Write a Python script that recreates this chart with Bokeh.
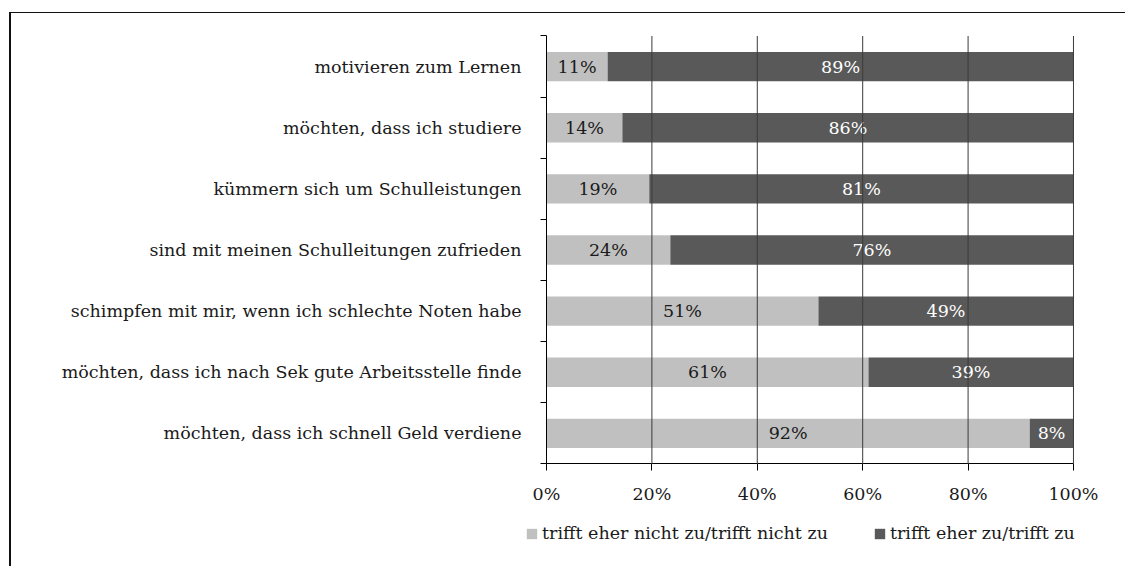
from bokeh.plotting import figure
from bokeh.layouts import column, row
from bokeh.models import (Range1d, FixedTicker, ColumnDataSource, Legend, LegendItem, Spacer)
from bokeh.core.properties import value
from bokeh.embed import file_html
from bokeh.resources import INLINE

categories = [
    "motivieren zum Lernen",
    "möchten, dass ich studiere",
    "kümmern sich um Schulleistungen",
    "sind mit meinen Schulleitungen zufrieden",
    "schimpfen mit mir, wenn ich schlechte Noten habe",
    "möchten, dass ich nach Sek gute Arbeitsstelle finde",
    "möchten, dass ich schnell Geld verdiene",
]
nicht_zu = [11.6, 14.4, 19.5, 23.5, 51.6, 61.1, 91.7]
zu = [100 - v for v in nicht_zu]
labels_nicht = ["11%", "14%", "19%", "24%", "51%", "61%", "92%"]
labels_zu = ["89%", "86%", "81%", "76%", "49%", "39%", "8%"]
x_ticks = [0, 20, 40, 60, 80, 100]
grid_ticks = [20, 40, 60, 80, 100]
series_names = ["trifft eher nicht zu/trifft nicht zu", "trifft eher zu/trifft zu"]

FONT = "DejaVu Serif"
FS = "17.5px"
LIGHT = "#c0c0c0"
DARK = "#595959"
TXT = "#1a1a1a"

n = len(categories)
ypos = [n - i - 0.5 for i in range(n)]

src = ColumnDataSource(dict(
    y=ypos,
    a0=[0] * n,
    a1=nicht_zu,
    b1=[100] * n,
    ca=[v / 2 for v in nicht_zu],
    cb=[a + b / 2 for a, b in zip(nicht_zu, zu)],
    la=labels_nicht,
    lb=labels_zu,
))

# the frame covers the whole canvas; axes are pinned at 0 with fixed_location
p = figure(width=1116, height=554, output_backend="svg", toolbar_location=None,
           x_range=Range1d(-101.52, 110.25), y_range=Range1d(-1.693, 7.368),
           min_border_left=0, min_border_right=0, min_border_top=0, min_border_bottom=0)
p.outline_line_color = None
p.styles = {"border-top": "1.5px solid #111", "border-left": "2px solid #111",
            "box-sizing": "border-box"}

r1 = p.hbar(y="y", left="a0", right="a1", height=0.48, source=src, fill_color=LIGHT, line_color=None)
r2 = p.hbar(y="y", left="a1", right="b1", height=0.48, source=src, fill_color=DARK, line_color=None)

# vertical gridlines over the bar area
p.segment(x0=grid_ticks, y0=[0] * len(grid_ticks), x1=grid_ticks, y1=[n] * len(grid_ticks),
          line_color="#3a3a3a", line_width=1, level="overlay")

p.text(x="ca", y="y", text="la", source=src, text_align="center", text_baseline="middle",
       text_font=value(FONT), text_font_size=FS, text_color=TXT)
p.text(x="cb", y="y", text="lb", source=src, text_align="center", text_baseline="middle",
       text_font=value(FONT), text_font_size=FS, text_color="#ffffff")

p.xgrid.grid_line_color = None
p.ygrid.grid_line_color = None

# x axis, pinned at y = 0
p.xaxis.fixed_location = 0
p.xaxis.bounds = (0, 100)
p.xaxis.ticker = FixedTicker(ticks=x_ticks, minor_ticks=[])
p.xaxis.major_label_overrides = {t: f"{t}%" for t in x_ticks}
p.xaxis.major_tick_out = 7
p.xaxis.major_tick_in = 0
p.xaxis.minor_tick_line_color = None
p.xaxis.major_label_standoff = 13
p.xaxis.axis_line_color = "#000"
p.xaxis.major_tick_line_color = "#000"
p.xaxis.major_label_text_font = FONT
p.xaxis.major_label_text_font_size = FS
p.xaxis.major_label_text_color = TXT

# y axis pinned at x = 0: labels at centers, ticks at band boundaries
p.yaxis.fixed_location = 0
p.yaxis.bounds = (0, n)
p.yaxis.ticker = FixedTicker(ticks=ypos, minor_ticks=list(range(n + 1)))
p.yaxis.major_label_overrides = {y: c for y, c in zip(ypos, categories)}
p.yaxis.major_tick_out = 0
p.yaxis.major_tick_in = 0
p.yaxis.minor_tick_out = 6
p.yaxis.minor_tick_in = 0
p.yaxis.minor_tick_line_color = "#000"
p.yaxis.axis_line_color = "#000"
p.yaxis.major_label_standoff = 19
p.yaxis.major_label_text_font = FONT
p.yaxis.major_label_text_font_size = FS
p.yaxis.major_label_text_color = TXT

legend = Legend(items=[LegendItem(label=series_names[0], renderers=[r1]),
                       LegendItem(label=series_names[1], renderers=[r2])],
                orientation="horizontal", location=(514, 24),
                glyph_width=13, glyph_height=13, label_height=13, label_standoff=4,
                spacing=45, padding=0, margin=0, border_line_color=None,
                background_fill_alpha=0,
                label_text_font=FONT, label_text_font_size=FS, label_text_color=TXT)
p.add_layout(legend, "center")

layout = column(Spacer(height=12), row(Spacer(width=9), p))

open("out.html", "w").write(file_html(layout, INLINE))
